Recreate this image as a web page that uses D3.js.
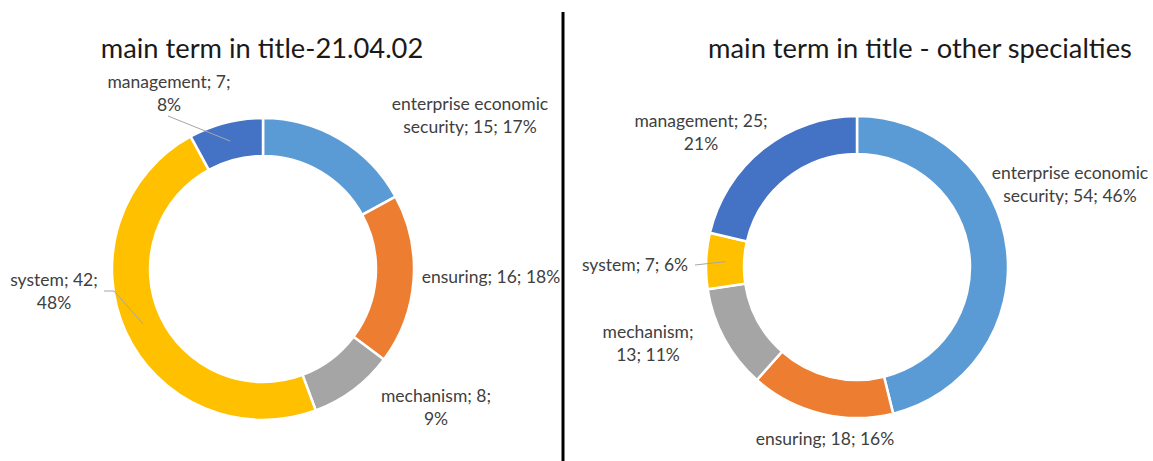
<!DOCTYPE html>
<html>
<head>
<meta charset="utf-8">
<script src="https://cdn.jsdelivr.net/npm/d3@7"></script>
<style>
  html, body { margin: 0; padding: 0; background: #fff; }
  svg { display: block; font-family: Lato, 'Open Sans', sans-serif; }
</style>
</head>
<body>
<div id="chart"></div>
<script>
// data
const categories = ['enterprise economic security', 'ensuring', 'mechanism', 'system', 'management']
const colors = ['#5b9bd5', '#ed7d31', '#a5a5a5', '#ffc000', '#4472c4']

const titleLeft = 'main term in title-21.04.02'
const countsLeft = [15, 16, 8, 42, 7]
const pctLeft = ['17%', '18%', '9%', '48%', '8%']

const titleRight = 'main term in title - other specialties'
const countsRight = [54, 18, 13, 7, 25]
const pctRight = ['46%', '16%', '11%', '6%', '21%']

const width = 1153
const height = 461

// label placement, relative to the donut centre (Excel placed these by hand)
// brk = number of words on the first line, 0 = single line
const layoutLeft = {
  cx: 263, cy: 269, titleX: 262, titleY: 58,
  labels: [
    { dx: 207, dy: -165, brk: 2 },
    { dx: 228, dy: 8, brk: 0 },
    { dx: 173, dy: 127, brk: 2 },
    { dx: -209, dy: 11, brk: 2, leader: [[-159, 22], [-149, 22]] },
    { dx: -94, dy: -187, brk: 2, leader: [[-95, -153]] }
  ]
}
const layoutRight = {
  cx: 857, cy: 267, titleX: 920, titleY: 58,
  labels: [
    { dx: 213, dy: -94, brk: 2 },
    { dx: -32, dy: 172, brk: 0 },
    { dx: -209, dy: 65, brk: 1 },
    { dx: -222, dy: -2, brk: 0, leader: [[-162, -2]] },
    { dx: -156, dy: -146, brk: 2 }
  ]
}

const outerR = 151
const innerR = 113

const svg = d3.select('#chart')
  .append('svg')
  .attr('width', width)
  .attr('height', height)

svg.append('rect')
  .attr('width', width)
  .attr('height', height)
  .attr('fill', '#fff')

// divider between the two charts
svg.append('line')
  .attr('x1', 563).attr('x2', 563)
  .attr('y1', 12).attr('y2', height)
  .attr('stroke', '#000')
  .attr('stroke-width', 3)

function drawDonut (title, counts, pcts, layout) {
  const data = categories.map((c, i) => ({ name: c, count: counts[i], pct: pcts[i], color: colors[i] }))

  svg.append('text')
    .attr('x', layout.titleX)
    .attr('y', layout.titleY)
    .attr('text-anchor', 'middle')
    .attr('font-size', 27.3)
    .attr('fill', '#1a1a1a')
    .text(title)

  const g = svg.append('g')
    .attr('transform', `translate(${layout.cx},${layout.cy})`)

  const pie = d3.pie()
    .value(d => d.count)
    .sort(null)

  const arc = d3.arc()
    .innerRadius(innerR)
    .outerRadius(outerR)

  const arcs = pie(data)

  g.selectAll('path')
    .data(arcs)
    .join('path')
    .attr('d', arc)
    .attr('fill', d => d.data.color)
    .attr('stroke', '#fff')
    .attr('stroke-width', 2.5)

  // leader lines go from near the label to the middle of the slice
  arcs.forEach((d, i) => {
    const lab = layout.labels[i]
    if (!lab.leader) return
    const pts = lab.leader.concat([arc.centroid(d)])
    g.append('path')
      .attr('d', d3.line()(pts))
      .attr('fill', 'none')
      .attr('stroke', '#a6a6a6')
      .attr('stroke-width', 1)
  })

  arcs.forEach((d, i) => {
    const lab = layout.labels[i]
    const full = `${d.data.name}; ${d.data.count}; ${d.data.pct}`
    const words = full.split(' ')
    const lines = lab.brk ? [words.slice(0, lab.brk).join(' '), words.slice(lab.brk).join(' ')] : [full]
    const t = g.append('text')
      .attr('text-anchor', 'middle')
      .attr('font-size', 17.5)
      .attr('fill', '#404040')
    lines.forEach((ln, k) => {
      t.append('tspan')
        .attr('x', lab.dx)
        .attr('y', lab.dy + k * 22.5)
        .attr('dy', '0.35em')
        .text(ln)
    })
  })
}

drawDonut(titleLeft, countsLeft, pctLeft, layoutLeft)
drawDonut(titleRight, countsRight, pctRight, layoutRight)
</script>
</body>
</html>
